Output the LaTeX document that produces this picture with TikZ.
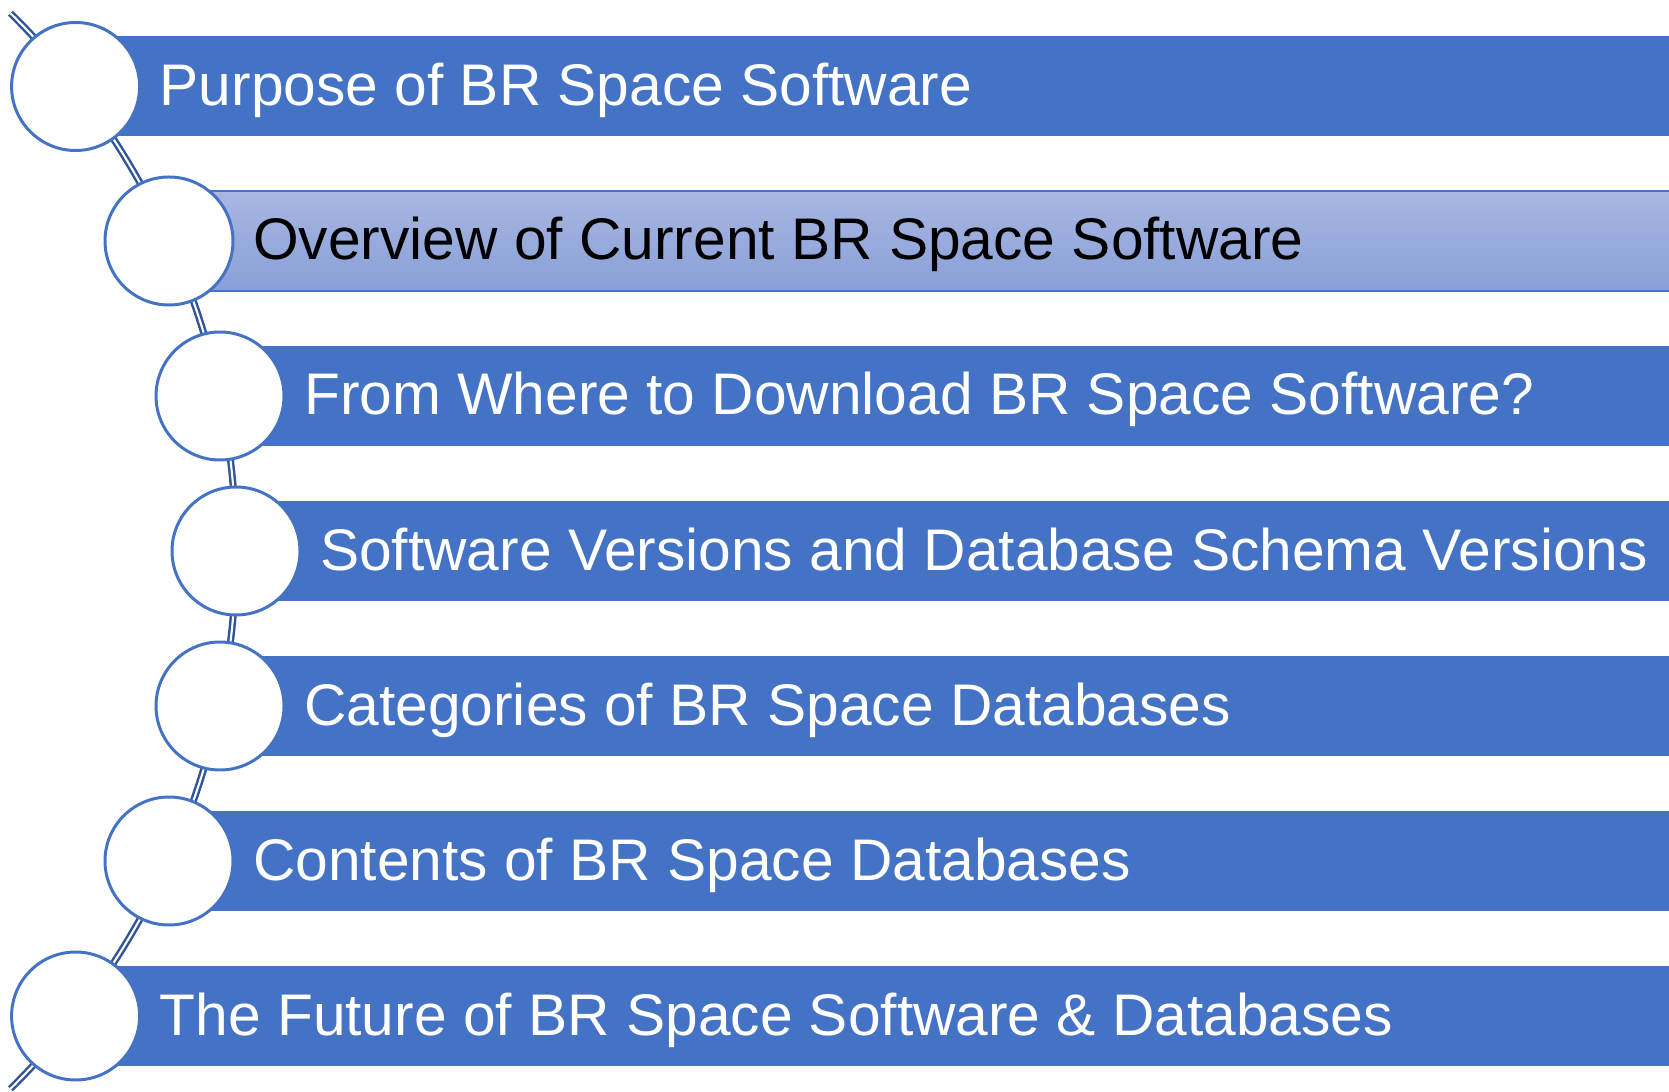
\documentclass[tikz,border=0pt]{standalone}
\usepackage{fontspec}
\setmainfont{Liberation Sans}

\definecolor{barblue}{HTML}{4472C4}
\definecolor{spineblue}{HTML}{2F5597}
\definecolor{hitop}{HTML}{A9B7E2}
\definecolor{hibot}{HTML}{889FD7}

\begin{document}
\begin{tikzpicture}[
	 circ/.style = {circle, draw = barblue, line width = 0.85 pt, fill = white, minimum size = 1.28 cm, inner sep = 0 pt},
	 bar/.style = {rectangle, fill = barblue, minimum height = 1.0 cm, inner sep = 0 pt, anchor = west},
	 barhi/.style = {rectangle, draw = barblue, line width = 0.4 pt, top color = hitop, bottom color = hibot, minimum height = 1.0 cm, inner sep = 0 pt, anchor = west},
	 txt/.style = {anchor = base west, inner sep = 0 pt, text = white, font = \fontsize{16.7 pt}{20 pt}\selectfont},
	 spine/.style = {draw = spineblue, line width = 0.7 pt, double = white, double distance = 0.6 pt}
	 ]
	 \useasboundingbox (0, 0) rectangle (16.69, -10.92);
	 
	 \coordinate (top) at (-5.18, -5.51);
	 \draw[spine] ([shift = {(45.5:7.54)}] top) arc[start angle = 45.5, end angle = -45.5, radius = 7.54];
	 
	 \node[bar, minimum width = 15.934 cm] (b1) at (0.756, -0.865) {};
	 \node[barhi, minimum width = 15.0 cm] (b2) at (1.69, -2.41) {};
	 \node[bar, minimum width = 14.49 cm] (b3) at (2.20, -3.96) {};
	 \node[bar, minimum width = 14.33 cm] (b4) at (2.36, -5.51) {};
	 \node[bar, minimum width = 14.49 cm] (b5) at (2.20, -7.06) {};
	 \node[bar, minimum width = 15.0 cm] (b6) at (1.69, -8.61) {};
	 \node[bar, minimum width = 15.934 cm] (b7) at (0.756, -10.16) {};
	 
	 \node[circ] (c1) at (0.756, -0.865) {};
	 \node[circ] (c2) at (1.69, -2.41) {};
	 \node[circ] (c3) at (2.20, -3.96) {};
	 \node[circ] (c4) at (2.36, -5.51) {};
	 \node[circ] (c5) at (2.20, -7.06) {};
	 \node[circ] (c6) at (1.69, -8.61) {};
	 \node[circ] (c7) at (0.756, -10.16) {};
	 
	 \node[txt] (t1) at ([shift = {(0.18, -0.19)}] c1.east) {Purpose of BR Space Software};
	 \node[txt, text = black] (t2) at ([shift = {(0.18, -0.19)}] c2.east) {Overview of Current BR Space Software};
	 \node[txt] (t3) at ([shift = {(0.18, -0.19)}] c3.east) {From Where to Download BR Space Software?};
	 \node[txt] (t4) at ([shift = {(0.18, -0.19)}] c4.east) {Software Versions and Database Schema Versions};
	 \node[txt] (t5) at ([shift = {(0.18, -0.19)}] c5.east) {Categories of BR Space Databases};
	 \node[txt] (t6) at ([shift = {(0.18, -0.19)}] c6.east) {Contents of BR Space Databases};
	 \node[txt] (t7) at ([shift = {(0.18, -0.19)}] c7.east) {The Future of BR Space Software \& Databases};
\end{tikzpicture}
\end{document}
